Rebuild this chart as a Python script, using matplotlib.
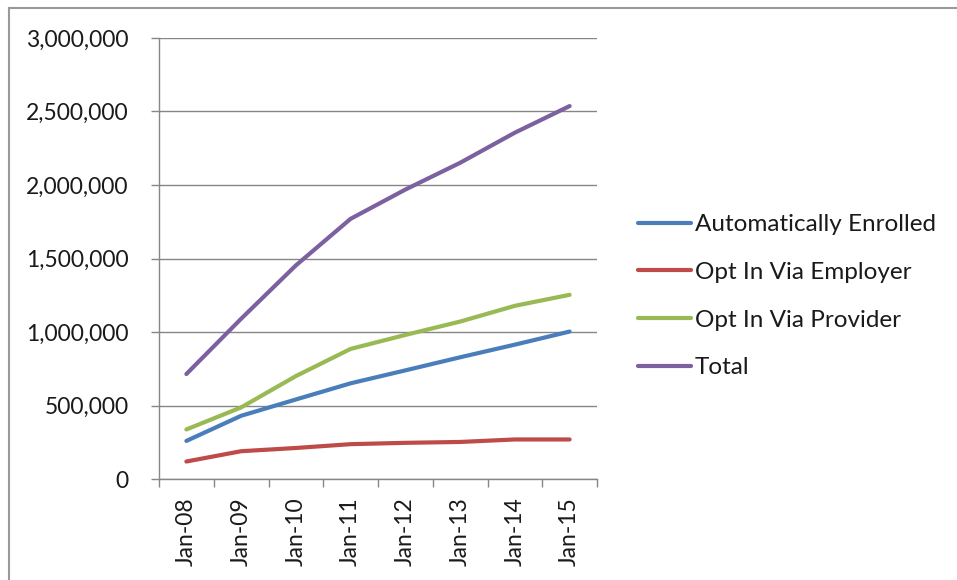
import matplotlib
matplotlib.use("Agg")
import matplotlib.pyplot as plt
from matplotlib.ticker import FuncFormatter, FixedLocator
from matplotlib.lines import Line2D

categories = ["Jan-08", "Jan-09", "Jan-10", "Jan-11", "Jan-12", "Jan-13", "Jan-14", "Jan-15"]
auto_enrolled = [259000, 430000, 541000, 651000, 739000, 828000, 914000, 1003000]
opt_employer = [119000, 189000, 211000, 237000, 246000, 252000, 269000, 269000]
opt_provider = [337000, 487000, 700000, 885000, 980000, 1071000, 1178000, 1253000]
total = [714000, 1090000, 1453000, 1770000, 1969000, 2151000, 2356000, 2537000]

series_names = ["Automatically Enrolled", "Opt In Via Employer", "Opt In Via Provider", "Total"]
colors = ["#4A7EBB", "#BE4B48", "#98B954", "#7D60A0"]

plt.rcParams['font.family'] = ['Lato', 'DejaVu Sans']
W, H = 957, 580
fig = plt.figure(figsize=(W / 100, H / 100), dpi=100)
ax = fig.add_axes([159 / W, 1 - 479 / H, (597 - 159) / W, (479 - 38) / H])

x = list(range(len(categories)))
for vals, name, c in zip([auto_enrolled, opt_employer, opt_provider, total], series_names, colors):
    ax.plot(x, vals, color=c, lw=3.0, solid_capstyle='round', solid_joinstyle='round', label=name, zorder=3)

ax.set_xlim(-0.5, len(categories) - 0.5)
ax.set_ylim(0, 3000000)
ax.set_yticks(range(0, 3000001, 500000))
ax.yaxis.set_major_formatter(FuncFormatter(lambda v, p: f"{int(v):,}"))
ax.grid(axis='y', color='#868686', lw=1.0, zorder=0)

fs = 16.5
ax.set_xticks(x)
ax.set_xticklabels(categories, rotation=90, fontsize=fs, color='#1a1a1a')
ax.xaxis.set_minor_locator(FixedLocator([i - 0.5 for i in range(len(categories) + 1)]))
ax.tick_params(axis='x', which='major', length=0, pad=13)
ax.tick_params(axis='x', which='minor', length=6, color='#868686', width=1)
ax.tick_params(axis='y', which='major', length=6, color='#868686', width=1, pad=16, labelsize=fs, labelcolor='#1a1a1a')

for s in ['top', 'right']:
    ax.spines[s].set_visible(False)
for s in ['left', 'bottom']:
    ax.spines[s].set_color('#868686')
    ax.spines[s].set_linewidth(1)

lfs = 17.5
leg = fig.legend(loc='upper left', bbox_to_anchor=(638 / W, 1 - 214 / H), frameon=False,
                 fontsize=lfs, handlelength=2.2, handletextpad=0.15, labelspacing=1.1,
                 borderaxespad=0, borderpad=0)
for t in leg.get_texts():
    t.set_color('#1a1a1a')

# outer chart border
fig.add_artist(Line2D([8.5 / W, 8.5 / W], [0, 1 - 8 / H], color='#999999', lw=1.5, transform=fig.transFigure))
fig.add_artist(Line2D([8.5 / W, 1], [1 - 8 / H, 1 - 8 / H], color='#999999', lw=1.5, transform=fig.transFigure))

fig.savefig("out.png", dpi=100, facecolor='white')
